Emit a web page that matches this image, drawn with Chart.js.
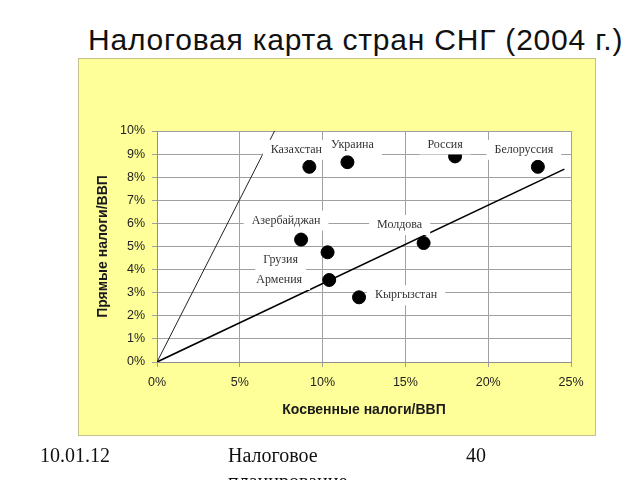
<!DOCTYPE html>
<html>
<head>
<meta charset="utf-8">
<script src="https://cdn.jsdelivr.net/npm/chart.js@4"></script>
<style>
    body { margin: 0; width: 640px; height: 480px; position: relative; overflow: hidden; background: #fff; }
    #title { position: absolute; left: 88px; top: 23px; font: 30px "Liberation Sans", Arial, sans-serif; letter-spacing: 0.8px; color: #111; white-space: nowrap; }
    #panel { position: absolute; left: 78px; top: 58px; width: 518px; height: 378px; background: #ffff99; border: 1px solid #c4c08a; box-sizing: border-box; }
    .foot { position: absolute; font: 20px "Liberation Serif", "Times New Roman", serif; color: #111; line-height: 26px; }
    #chart { position: absolute; left: 0; top: 0; }
</style>
</head>
<body>
<div id="title">Налоговая карта стран СНГ (2004 г.)</div>
<div id="panel"></div>
<canvas id="chart" width="640" height="480"></canvas>
<div class="foot" style="left:40px;top:442px">10.01.12</div>
<div class="foot" style="left:228px;top:442px">Налоговое<br>планирование</div>
<div class="foot" style="left:466px;top:442px">40</div>
<script>
    // Страны и их налоги (% ВВП)
    const countries = ['Казахстан', 'Украина', 'Россия', 'Белоруссия', 'Азербайджан', 'Грузия', 'Молдова', 'Армения', 'Кыргызстан'];
    const indirectTax = [9.2, 11.5, 18.0, 23.0, 8.7, 10.3, 16.1, 10.4, 12.2];
    const directTax = [8.45, 8.65, 8.9, 8.45, 5.3, 4.75, 5.15, 3.55, 2.8];

    // две линии из начала координат
    const steepLine = [{ x: 0, y: 0 }, { x: 7.1, y: 10 }];
    const flatLine = [{ x: 0, y: 0 }, { x: 24.6, y: 8.35 }];

    const xTicks = [0, 5, 10, 15, 20, 25];
    const yTicks = [0, 1, 2, 3, 4, 5, 6, 7, 8, 9, 10];

    // смещение подписи относительно точки, px
    const labelOffsets = [[-13, -17], [5, -17], [-10, -12], [-14, -17], [-15, -19], [-47, 8], [-24, -18], [-50, 0], [47, -2]];

    const points = countries.map((c, i) => ({ x: indirectTax[i], y: directTax[i] }));

    const plotBg = {
        id: 'plotBg',
        beforeDraw(chart) {
            const { ctx, chartArea: a } = chart;
            ctx.save();
            ctx.fillStyle = '#ffffff';
            ctx.fillRect(a.left, a.top, a.width, a.height);
            ctx.restore();
        }
    };

    const countryLabels = {
        id: 'countryLabels',
        afterDatasetsDraw(chart) {
            const ctx = chart.ctx;
            const meta = chart.getDatasetMeta(0);
            ctx.save();
            ctx.font = '12px "Liberation Serif", "Times New Roman", serif';
            ctx.textAlign = 'center';
            ctx.textBaseline = 'middle';
            meta.data.forEach((el, i) => {
                const x = el.x + labelOffsets[i][0];
                const y = el.y + labelOffsets[i][1];
                const w = ctx.measureText(countries[i]).width;
                ctx.fillStyle = '#ffffff';
                ctx.fillRect(x - w / 2 - 8, y - 10, w + 16, 20);
                ctx.fillStyle = '#333';
                ctx.fillText(countries[i], x, y);
            });
            ctx.restore();
        }
    };

    new Chart(document.getElementById('chart'), {
        type: 'scatter',
        data: {
            datasets: [
                {
                    data: points,
                    backgroundColor: '#000',
                    borderColor: '#000',
                    pointRadius: 6.5,
                    order: 0
                },
                {
                    data: steepLine,
                    showLine: true,
                    borderColor: '#222',
                    borderWidth: 1,
                    pointRadius: 0,
                    order: 2
                },
                {
                    data: flatLine,
                    showLine: true,
                    borderColor: '#000',
                    borderWidth: 1.6,
                    pointRadius: 0,
                    order: 1
                }
            ]
        },
        options: {
            responsive: false,
            animation: false,
            layout: { padding: { left: 91, right: 69, top: 131, bottom: 57 } },
            plugins: { legend: { display: false }, tooltip: { enabled: false } },
            scales: {
                x: {
                    type: 'linear',
                    min: xTicks[0],
                    max: xTicks[xTicks.length - 1],
                    afterBuildTicks: s => { s.ticks = xTicks.map(v => ({ value: v })); },
                    afterFit: s => { s.height = 61; },
                    ticks: {
                        callback: v => v + '%',
                        color: '#222',
                        padding: 8,
                        font: { family: '"Liberation Sans", Arial, sans-serif', size: 12.5 }
                    },
                    grid: { color: '#a0a0a0', tickLength: 5 },
                    border: { color: '#909090' },
                    title: {
                        display: true,
                        text: 'Косвенные налоги/ВВП',
                        color: '#1a1a1a',
                        font: { family: '"Liberation Sans", Arial, sans-serif', size: 14, weight: 'bold' }
                    }
                },
                y: {
                    min: yTicks[0],
                    max: yTicks[yTicks.length - 1],
                    afterBuildTicks: s => { s.ticks = yTicks.map(v => ({ value: v })); },
                    afterFit: s => { s.width = 66; },
                    ticks: {
                        callback: v => v + '%',
                        color: '#222',
                        padding: 7,
                        font: { family: '"Liberation Sans", Arial, sans-serif', size: 12.5 }
                    },
                    grid: { color: '#a0a0a0', tickLength: 5 },
                    border: { color: '#909090' },
                    title: {
                        display: true,
                        text: 'Прямые налоги/ВВП',
                        color: '#1a1a1a',
                        font: { family: '"Liberation Sans", Arial, sans-serif', size: 14, weight: 'bold' }
                    }
                }
            }
        },
        plugins: [plotBg, countryLabels]
    });
</script>
</body>
</html>
